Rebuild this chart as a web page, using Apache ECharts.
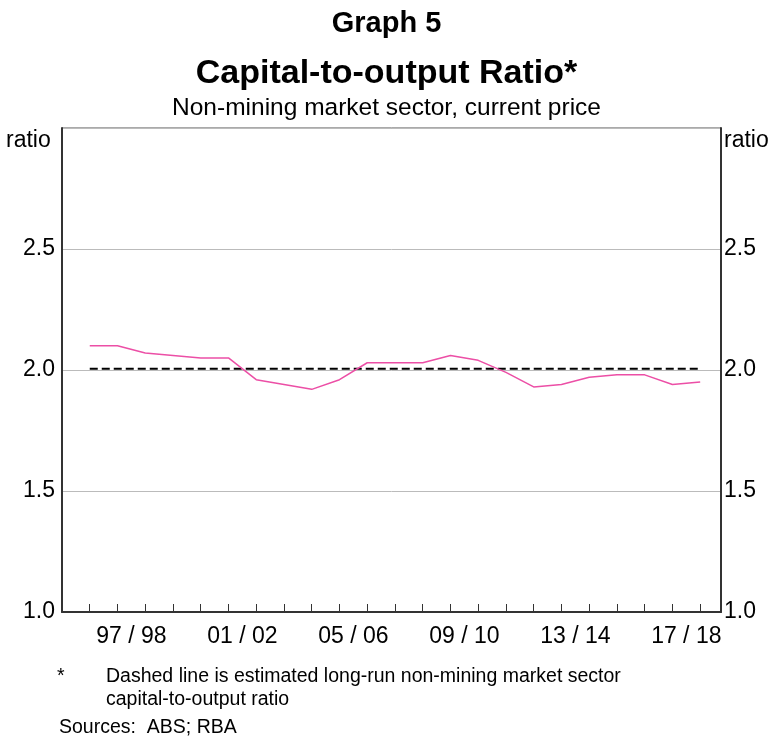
<!DOCTYPE html>
<html>
<head>
<meta charset="utf-8">
<script src="https://cdn.jsdelivr.net/npm/echarts@6/dist/echarts.min.js"></script>
<style>
  html, body { margin: 0; padding: 0; background: #fff; }
  #main { width: 773px; height: 739px; }
</style>
</head>
<body>
<div id="main"></div>
<script>
// financial years, one band each
var years = ['95/96', '96/97', '97/98', '98/99', '99/00', '00/01', '01/02', '02/03',
    '03/04', '04/05', '05/06', '06/07', '07/08', '08/09', '09/10', '10/11',
    '11/12', '12/13', '13/14', '14/15', '15/16', '16/17', '17/18', '18/19'];
// ratio observed at the end of each year, from 95/96 to 17/18
var ratio = [2.10, 2.10, 2.07, 2.06, 2.05, 2.05, 1.96, 1.94, 1.92, 1.96, 2.03, 2.03,
    2.03, 2.06, 2.04, 1.99, 1.93, 1.94, 1.97, 1.98, 1.98, 1.94, 1.95];
// estimated long-run ratio
var longRun = 2.005;
var yTicks = [1.0, 1.5, 2.0, 2.5, 3.0];
// the axis stops a quarter of the way short of the end of 18/19
var xMax = 23.75;

var font = 'Liberation Sans, Arial, sans-serif';
var myChart = echarts.init(document.getElementById('main'));

var ratioData = ratio.map(function (v, i) { return [i + 1, v]; });
var longRunData = ratio.map(function (v, i) { return [i + 1, longRun]; });

var yLabel = function (v) {
    return v >= yTicks[yTicks.length - 1] ? '' : v.toFixed(1);
};

var plotLeft = 62, plotWidth = 659;
var bandWidth = plotWidth / xMax;

var option = {
    animation: false,
    textStyle: { fontFamily: font },
    title: [
        { text: 'Graph 5', left: 'center', top: 4,
          textStyle: { fontSize: 29, fontWeight: 'bold', color: '#000', fontFamily: font } },
        { text: 'Capital-to-output Ratio*', left: 'center', top: 52,
          subtext: 'Non-mining market sector, current price', itemGap: 5,
          textStyle: { fontSize: 34, fontWeight: 'bold', color: '#000', fontFamily: font },
          subtextStyle: { fontSize: 24.5, color: '#000', fontFamily: font } }
    ],
    graphic: [
        { type: 'text', left: 6, top: 129, style: { text: 'ratio', fontSize: 23, fill: '#000', fontFamily: font } },
        { type: 'text', left: 724, top: 129, style: { text: 'ratio', fontSize: 23, fill: '#000', fontFamily: font } },
        { type: 'text', left: 57, top: 667, style: { text: '*', fontSize: 19.5, fill: '#000', fontFamily: font } },
        { type: 'text', left: 106, top: 665, style: {
            text: 'Dashed line is estimated long-run non-mining market sector\ncapital-to-output ratio',
            fontSize: 19.5, lineHeight: 23, fill: '#000', fontFamily: font } },
        { type: 'text', left: 59, top: 718, style: { text: 'Sources:  ABS; RBA', fontSize: 19.5, fill: '#000', fontFamily: font } }
    ],
    grid: [{
        left: plotLeft, width: plotWidth, top: 128, bottom: 127,
        show: true, borderColor: '#555', borderWidth: 1
    }, {
        // label-only grid: whole years laid out at the same band width
        left: plotLeft, width: bandWidth * years.length, top: 128, bottom: 127,
        show: false
    }],
    xAxis: [{
        type: 'value', min: 0, max: xMax, interval: 1, gridIndex: 0,
        axisLine: { show: true, lineStyle: { color: '#333', width: 2 } },
        axisTick: { show: true, inside: true, length: 8, lineStyle: { color: '#333' } },
        axisLabel: { show: false },
        splitLine: { show: false }
    }, {
        type: 'category', data: years, boundaryGap: true, gridIndex: 1,
        axisLine: { show: false },
        axisTick: { show: false },
        axisLabel: {
            interval: function (i) { return i % 4 === 2; },
            formatter: function (v) { return v.replace('/', ' / '); },
            fontSize: 23, color: '#000', margin: 13, fontFamily: font
        }
    }],
    yAxis: [{
        type: 'value', min: 1, max: 3, interval: 0.5, position: 'left', gridIndex: 0,
        axisLine: { show: true, lineStyle: { color: '#333', width: 2 } },
        axisTick: { show: false },
        axisLabel: { formatter: yLabel, fontSize: 23, color: '#000', margin: 7, fontFamily: font },
        splitLine: { show: true, lineStyle: { color: '#bbb', width: 1 } }
    }, {
        type: 'value', min: 1, max: 3, interval: 0.5, position: 'right', gridIndex: 0,
        axisLine: { show: true, lineStyle: { color: '#333', width: 2 } },
        axisTick: { show: false },
        axisLabel: { formatter: yLabel, fontSize: 23, color: '#000', margin: 3, fontFamily: font },
        splitLine: { show: false }
    }, {
        type: 'value', min: 1, max: 3, gridIndex: 1, show: false
    }],
    series: [{
        type: 'line', name: 'Long-run', data: longRunData,
        xAxisIndex: 0, yAxisIndex: 0, showSymbol: false, z: 3,
        lineStyle: { color: '#000', width: 2, type: [8, 4] }
    }, {
        type: 'line', name: 'Ratio', data: ratioData,
        xAxisIndex: 0, yAxisIndex: 0, showSymbol: false, z: 4,
        lineStyle: { color: '#ec4fa6', width: 1.5 }
    }]
};

myChart.setOption(option);
</script>
</body>
</html>
